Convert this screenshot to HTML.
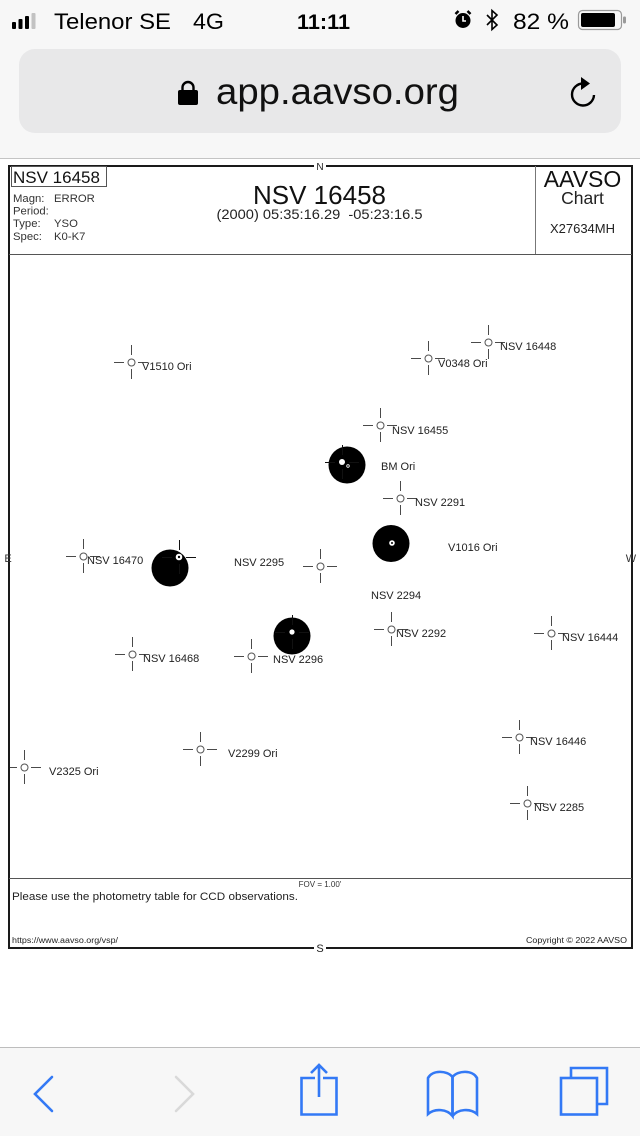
<!DOCTYPE html>
<html>
<head>
<meta charset="utf-8">
<style>
html,body{margin:0;padding:0;background:#fff;}
body{width:640px;height:1136px;overflow:hidden;}
svg{display:block;font-family:"Liberation Sans",Arial,sans-serif;}
</style>
</head>
<body>
<svg width="640" height="1136" viewBox="0 0 640 1136" xmlns="http://www.w3.org/2000/svg">
  <!-- browser chrome top -->
  <rect x="0" y="0" width="640" height="158" fill="#f7f7f7"/>
  <line x1="0" y1="158.5" x2="640" y2="158.5" stroke="#c4c4c4" stroke-width="1"/>
  <!-- signal bars -->
  <rect x="12" y="22" width="4" height="7" rx="1" fill="#000"/>
  <rect x="18.5" y="19" width="4" height="10" rx="1" fill="#000"/>
  <rect x="25" y="16" width="4" height="13" rx="1" fill="#000"/>
  <rect x="31.5" y="13" width="4" height="16" rx="1" fill="#c2c2c2"/>
  <text x="54" y="29" font-size="22" fill="#000" textLength="117" lengthAdjust="spacingAndGlyphs">Telenor SE</text>
  <text x="193" y="29" font-size="22" fill="#000" textLength="31" lengthAdjust="spacingAndGlyphs">4G</text>
  <text x="297" y="29" font-size="21" font-weight="bold" fill="#000" textLength="53" lengthAdjust="spacingAndGlyphs">11:11</text>
  <!-- alarm -->
  <circle cx="463" cy="20.5" r="7.5" fill="#000"/>
  <path d="M455.5,14 l3,-3 M470.5,14 l-3,-3" stroke="#000" stroke-width="2.5"/>
  <path d="M463,16 v5 h3" stroke="#fff" stroke-width="1.6" fill="none"/>
  <!-- bluetooth -->
  <path d="M487,15 l10,10 l-5,4.5 v-19 l5,4.5 l-10,10" stroke="#000" stroke-width="1.6" fill="none"/>
  <text x="513" y="29" font-size="22" fill="#000" textLength="56" lengthAdjust="spacingAndGlyphs">82 %</text>
  <!-- battery -->
  <rect x="578.5" y="10.5" width="43" height="19" rx="4" fill="none" stroke="#9a9a9a" stroke-width="1.2"/>
  <rect x="581" y="13" width="34" height="14" rx="2" fill="#000"/>
  <rect x="623" y="16.5" width="3" height="7" rx="1.2" fill="#9a9a9a"/>

  <!-- URL pill -->
  <rect x="19" y="49" width="602" height="84" rx="16" fill="#e8e8e9"/>
  <path d="M182.5,91 v-3.5 a5.5,5.5 0 0 1 11,0 v3.5" stroke="#000" stroke-width="2.4" fill="none"/>
  <rect x="178" y="90" width="20" height="15" rx="2" fill="#000"/>
  <text x="216" y="104" font-size="37" fill="#111" textLength="243" lengthAdjust="spacingAndGlyphs">app.aavso.org</text>
  <!-- reload -->
  <path d="M583,83.5 A11,11 0 1 0 594,95" stroke="#000" stroke-width="2.4" fill="none"/>
  <path d="M581,77 L590,83.5 L581,90 Z" fill="#000"/>

  <!-- chart frame -->
  <rect x="9" y="166" width="623" height="782" fill="#fff" stroke="#1a1a1a" stroke-width="2"/>
  <line x1="9" y1="254.5" x2="632" y2="254.5" stroke="#555" stroke-width="1"/>
  <line x1="535.5" y1="166" x2="535.5" y2="254" stroke="#777" stroke-width="1"/>
  <line x1="9" y1="878.5" x2="632" y2="878.5" stroke="#555" stroke-width="1"/>

  <!-- compass letters -->
  <rect x="314" y="161" width="12" height="10" fill="#fff"/>
  <text x="320" y="170" font-size="10" text-anchor="middle" fill="#222">N</text>
  <rect x="314" y="943" width="12" height="10" fill="#fff"/>
  <text x="320" y="952" font-size="11" text-anchor="middle" fill="#222">S</text>
  <text x="8" y="562" font-size="11" text-anchor="middle" fill="#333">E</text>
  <text x="631" y="562" font-size="11" text-anchor="middle" fill="#333">W</text>

  <!-- header left -->
  <rect x="11.5" y="166.5" width="95" height="20" fill="none" stroke="#555" stroke-width="1"/>
  <text x="13" y="183" font-size="17" fill="#111">NSV 16458</text>
  <g font-size="11.3" fill="#333">
    <text x="13" y="202">Magn:</text><text x="54" y="202">ERROR</text>
    <text x="13" y="214.5">Period:</text>
    <text x="13" y="227">Type:</text><text x="54" y="227">YSO</text>
    <text x="13" y="240">Spec:</text><text x="54" y="240">K0-K7</text>
  </g>
  <!-- header center -->
  <text x="319.5" y="204" font-size="26" text-anchor="middle" fill="#111">NSV 16458</text>
  <text x="319.5" y="219" font-size="14" text-anchor="middle" fill="#222" textLength="206" lengthAdjust="spacingAndGlyphs">(2000) 05:35:16.29&#160;&#160;-05:23:16.5</text>
  <!-- header right -->
  <text x="582.5" y="187" font-size="23" text-anchor="middle" fill="#111">AAVSO</text>
  <text x="582.5" y="204" font-size="17.5" text-anchor="middle" fill="#222">Chart</text>
  <text x="582.5" y="233" font-size="13" text-anchor="middle" fill="#222">X27634MH</text>

  <!-- big disks -->
  <circle cx="347" cy="465" r="18.5" fill="#000"/>
  <circle cx="391" cy="543.5" r="18.5" fill="#000"/>
  <circle cx="170" cy="568" r="18.5" fill="#000"/>
  <circle cx="292" cy="636" r="18.5" fill="#000"/>
  <!-- disk crosshairs (black) -->
  <path d="M325,462.5h10M349,462.5h10M342.5,445v10M342.5,469v10
           M162,557.5h10M186,557.5h10M179.5,540v10M179.5,564v10
           M275,632.5h10M299,632.5h10M292.5,615v10M292.5,639v10" stroke="#111" stroke-width="1"/>
  <!-- disk inner dots -->
  <circle cx="342" cy="462" r="3" fill="#fff"/>
  <circle cx="348" cy="466" r="1.3" fill="none" stroke="#fff" stroke-width="0.8"/>
  <circle cx="179" cy="557" r="3.3" fill="#fff"/>
  <circle cx="179" cy="557" r="1.2" fill="#000"/>
  <circle cx="392" cy="543" r="2.8" fill="#fff"/>
  <circle cx="392" cy="543" r="1" fill="#000"/>
  <circle cx="292" cy="632" r="2.6" fill="#fff"/>

  <!-- crosshair markers -->
  <path stroke="#4a4a4a" stroke-width="1" fill="none" d="
    M114,362.5h10M138,362.5h10M131.5,345v10M131.5,369v10
    M411,358.5h10M435,358.5h10M428.5,341v10M428.5,365v10
    M471,342.5h10M495,342.5h10M488.5,325v10M488.5,349v10
    M363,425.5h10M387,425.5h10M380.5,408v10M380.5,432v10
    M383,498.5h10M407,498.5h10M400.5,481v10M400.5,505v10
    M303,566.5h10M327,566.5h10M320.5,549v10M320.5,573v10
    M66,556.5h10M90,556.5h10M83.5,539v10M83.5,563v10
    M115,654.5h10M139,654.5h10M132.5,637v10M132.5,661v10
    M234,656.5h10M258,656.5h10M251.5,639v10M251.5,663v10
    M374,629.5h10M398,629.5h10M391.5,612v10M391.5,636v10
    M534,633.5h10M558,633.5h10M551.5,616v10M551.5,640v10
    M183,749.5h10M207,749.5h10M200.5,732v10M200.5,756v10
    M10,767.5h7M31,767.5h10M24.5,750v10M24.5,774v10
    M502,737.5h10M526,737.5h10M519.5,720v10M519.5,744v10
    M510,803.5h10M534,803.5h10M527.5,786v10M527.5,810v10"/>
  <g fill="#fff" stroke="#555" stroke-width="1">
    <circle cx="131.5" cy="362.5" r="3.5"/>
    <circle cx="428.5" cy="358.5" r="3.5"/>
    <circle cx="488.5" cy="342.5" r="3.5"/>
    <circle cx="380.5" cy="425.5" r="3.5"/>
    <circle cx="400.5" cy="498.5" r="3.5"/>
    <circle cx="320.5" cy="566.5" r="3.5"/>
    <circle cx="83.5" cy="556.5" r="3.5"/>
    <circle cx="132.5" cy="654.5" r="3.5"/>
    <circle cx="251.5" cy="656.5" r="3.5"/>
    <circle cx="391.5" cy="629.5" r="3.5"/>
    <circle cx="551.5" cy="633.5" r="3.5"/>
    <circle cx="200.5" cy="749.5" r="3.5"/>
    <circle cx="24.5" cy="767.5" r="3.5"/>
    <circle cx="519.5" cy="737.5" r="3.5"/>
    <circle cx="527.5" cy="803.5" r="3.5"/>
  </g>

  <!-- star labels -->
  <g font-size="11" fill="#222">
    <text x="142" y="370">V1510 Ori</text>
    <text x="438" y="367">V0348 Ori</text>
    <text x="500" y="350">NSV 16448</text>
    <text x="392" y="434">NSV 16455</text>
    <text x="381" y="470">BM Ori</text>
    <text x="415" y="506">NSV 2291</text>
    <text x="448" y="551">V1016 Ori</text>
    <text x="234" y="566">NSV 2295</text>
    <text x="371" y="599">NSV 2294</text>
    <text x="87" y="564">NSV 16470</text>
    <text x="143" y="662">NSV 16468</text>
    <text x="273" y="663">NSV 2296</text>
    <text x="396" y="637">NSV 2292</text>
    <text x="562" y="641">NSV 16444</text>
    <text x="228" y="757">V2299 Ori</text>
    <text x="49" y="775">V2325 Ori</text>
    <text x="530" y="745">NSV 16446</text>
    <text x="534" y="811">NSV 2285</text>
  </g>

  <!-- footer -->
  <text x="320" y="887" font-size="8" text-anchor="middle" fill="#333">FOV = 1.00'</text>
  <text x="12" y="900" font-size="11.3" fill="#222" textLength="286" lengthAdjust="spacingAndGlyphs">Please use the photometry table for CCD observations.</text>
  <text x="12" y="943" font-size="8" fill="#222" textLength="106" lengthAdjust="spacingAndGlyphs">https://www.aavso.org/vsp/</text>
  <text x="627" y="943" font-size="8" text-anchor="end" fill="#222" textLength="101" lengthAdjust="spacingAndGlyphs">Copyright © 2022 AAVSO</text>

  <!-- bottom toolbar -->
  <rect x="0" y="1047" width="640" height="89" fill="#f7f7f7"/>
  <line x1="0" y1="1047.5" x2="640" y2="1047.5" stroke="#bdbdbd" stroke-width="1"/>
  <g fill="none" stroke="#3379f5" stroke-width="2.6" stroke-linejoin="miter">
    <polyline points="52,1077 35,1094 52,1111" stroke-linecap="round"/>
    <path d="M315,1078 H301.5 V1114.5 H336.5 V1078 H323"/>
    <path d="M319,1097 V1065 M311,1073 L319,1065 L327,1073"/>
    <path d="M452.5,1116 C447,1109 435,1108 428,1114 V1078 C432,1070 447,1070 452.5,1077 Z"/>
    <path d="M452.5,1116 C458,1109 470,1108 477,1114 V1078 C473,1070 458,1070 452.5,1077"/>
    <line x1="452.5" y1="1077" x2="452.5" y2="1116"/>
    <rect x="561" y="1078" width="36" height="36.5"/>
    <path d="M571,1078 V1068 H607 V1104 H597"/>
  </g>
  <polyline points="176,1077 193,1094 176,1111" fill="none" stroke="#d9d9d9" stroke-width="2.6" stroke-linecap="round"/>
</svg>
</body>
</html>
